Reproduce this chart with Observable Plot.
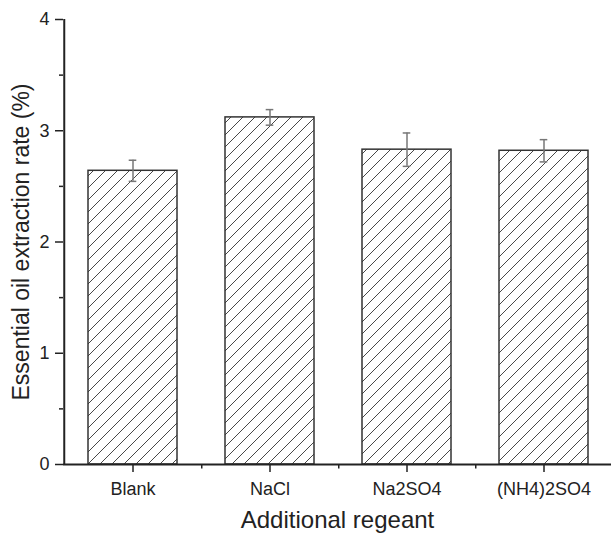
<!DOCTYPE html>
<html>
<head>
<meta charset="utf-8">
<script src="https://cdn.jsdelivr.net/npm/d3@7"></script>
<script src="https://cdn.jsdelivr.net/npm/@observablehq/plot@0.6"></script>
<style>
  html, body { margin: 0; padding: 0; background: #fff; }
  #chart svg { display: block; }
</style>
</head>
<body>
<div id="chart"></div>
<script>
const categories = ["Blank", "NaCl", "Na2SO4", "(NH4)2SO4"];
const values = [2.64, 3.12, 2.83, 2.82];
const errors = [0.095, 0.07, 0.15, 0.1];
const yTicks = [0, 1, 2, 3, 4];
const yMinorTicks = [0.5, 1.5, 2.5, 3.5];
const xTitle = "Additional regeant";
const yTitle = "Essential oil extraction rate (%)";

const data = categories.map((c, i) => ({cat: c, v: values[i], lo: values[i] - errors[i], hi: values[i] + errors[i]}));

const W = 611, H = 534;
const xRange = [63, 613];
const step = (xRange[1] - xRange[0]) / categories.length;
const ink = "#222";
const font = "'Liberation Sans', Arial, sans-serif";

const plot = Plot.plot({
  width: W,
  height: H,
  marginLeft: 63,
  marginRight: 0,
  marginTop: 19,
  marginBottom: 70,
  style: {fontFamily: font, color: ink, background: "#fff"},
  x: {type: "band", domain: categories, range: xRange, paddingInner: 0.35, paddingOuter: 0.175, axis: null},
  y: {domain: [0, 4], axis: null},
  marks: [
    Plot.barY(data, {x: "cat", y: "v", fill: "url(#hatch)", stroke: "#333", strokeWidth: 1.5}),
    Plot.ruleX(data, {x: "cat", y1: "lo", y2: "hi", stroke: "#777", strokeWidth: 1.5}),
    Plot.tickY(data, {x: "cat", y: "lo", stroke: "#777", strokeWidth: 1.5, insetLeft: 40.7, insetRight: 40.7}),
    Plot.tickY(data, {x: "cat", y: "hi", stroke: "#777", strokeWidth: 1.5, insetLeft: 40.7, insetRight: 40.7}),
    // axes lines
    Plot.ruleY([0], {stroke: ink, strokeWidth: 2}),
    Plot.ruleX([categories[0]], {x: d => d, dx: -step / 2, y1: 0, y2: 4, stroke: ink, strokeWidth: 2}),
    // y ticks
    Plot.axisY(yTicks, {anchor: "left", tickSize: 8, tickPadding: 6, fontSize: 18, tickFormat: "d", stroke: ink, strokeWidth: 1.5, fill: ink, label: null}),
    Plot.axisY(yMinorTicks, {anchor: "left", tickSize: 4, tickFormat: () => "", stroke: ink, strokeWidth: 1.5, label: null}),
    // x ticks
    Plot.axisX(categories, {anchor: "bottom", tickSize: 8, tickPadding: 10, fontSize: 18, stroke: ink, strokeWidth: 1.5, fill: ink, label: null}),
    Plot.ruleX(categories.slice(0, -1), {x: d => d, dx: step / 2, y1: 0, y2: -0.04, stroke: ink, strokeWidth: 1.5, clip: false}),
    // titles
    Plot.text([xTitle], {frameAnchor: "bottom", dy: 56, fontSize: 24, fill: ink, lineAnchor: "middle", textAnchor: "middle"}),
    Plot.text([yTitle], {frameAnchor: "left", dx: -42, rotate: -90, fontSize: 23, fill: ink, lineAnchor: "middle", textAnchor: "middle"})
  ]
});

// hatch pattern definition
const svg = d3.select(plot);
const defs = svg.insert("defs", ":first-child");
const pat = defs.append("pattern")
  .attr("id", "hatch")
  .attr("patternUnits", "userSpaceOnUse")
  .attr("width", 12).attr("height", 12);
pat.append("rect").attr("width", 12).attr("height", 12).attr("fill", "#fff");
pat.append("path")
  .attr("d", "M0,12 L12,0 M-3,3 L3,-3 M9,15 L15,9")
  .attr("stroke", "#333").attr("stroke-width", 0.9).attr("fill", "none");

document.getElementById("chart").appendChild(plot);
</script>
</body>
</html>
